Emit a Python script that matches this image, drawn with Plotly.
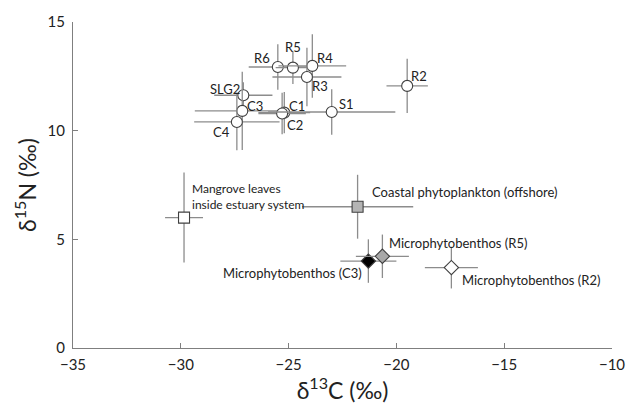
import plotly.graph_objects as go

# ---- data ----
site_labels = ["R6", "R5", "R4", "R3", "R2", "SLG2", "C3", "C1", "C2", "C4", "S1"]
site_d13c = [-25.5, -24.8, -23.9, -24.15, -19.5, -27.1, -27.15, -25.2, -25.3, -27.4, -23.0]
site_d15n = [12.93, 12.9, 12.98, 12.47, 12.06, 11.63, 10.91, 10.83, 10.79, 10.4, 10.86]
site_d13c_sd = [1.35, 0.8, 1.57, 1.6, 0.96, 1.35, 2.2, 1.2, 1.1, 1.98, 2.95]
site_d15n_sd = [1.05, 0.75, 1.46, 1.35, 1.25, 0.6, 1.8, 0.95, 0.95, 1.3, 1.05]

src_labels = ["Mangrove leaves<br>inside estuary system", "Coastal phytoplankton (offshore)",
              "Microphytobenthos (C3)", "Microphytobenthos (R5)", "Microphytobenthos (R2)"]
src_d13c = [-29.85, -21.8, -21.3, -20.65, -17.45]
src_d15n = [6.0, 6.5, 4.0, 4.22, 3.7]
src_d13c_sd = [0.88, 2.58, 1.3, 1.23, 1.23]
src_d15n_sd = [2.07, 1.47, 1.0, 1.0, 0.96]

x_ticks = [-35, -30, -25, -20, -15, -10]
y_ticks = [0, 5, 10, 15]

# ---- styles ----
FONT = "Lato"
ERR = dict(color="#8c8c8c", thickness=1.3, width=0)
EDGE = "#404040"
src_symbols = ["square", "square", "diamond", "diamond", "diamond"]
src_fills = ["white", "#b4b4b4", "black", "#a8a8a8", "white"]
src_sizes = [11, 11, 11, 11, 11]
src_font_sizes = [12, 13, 13, 13, 13]

# label offsets (pixels): (xshift, yshift, xanchor)
site_off = {
    "R6": (-16, 9, "center"), "R5": (0, 21, "center"), "R4": (13, 8, "center"),
    "R3": (13, -9, "center"), "R2": (12, 10, "center"), "SLG2": (-18, 6, "center"),
    "C3": (13, 5, "center"), "C1": (13, 7, "center"), "C2": (13, -11, "center"),
    "C4": (-15, -10, "center"), "S1": (15, 8, "center"),
}
src_off = [(6, 21, "left"), (12, 15, "left"), (-4, -12, "right"), (5, 13, "left"), (9, -12, "left")]

fig = go.Figure()

# sources first (drawn below), then sites
for i in range(len(src_labels)):
    fig.add_trace(go.Scatter(
        x=[src_d13c[i]], y=[src_d15n[i]], mode="markers",
        error_x=dict(type="data", array=[src_d13c_sd[i]], **ERR),
        error_y=dict(type="data", array=[src_d15n_sd[i]], **ERR),
        marker=dict(symbol=src_symbols[i], size=src_sizes[i], color=src_fills[i],
                    line=dict(color=EDGE, width=1.1)),
        showlegend=False, hoverinfo="skip"))

for i in range(len(site_labels)):
    fig.add_trace(go.Scatter(
        x=[site_d13c[i]], y=[site_d15n[i]], mode="markers",
        error_x=dict(type="data", array=[site_d13c_sd[i]], **ERR),
        error_y=dict(type="data", array=[site_d15n_sd[i]], **ERR),
        marker=dict(symbol="circle", size=11, color="white",
                    line=dict(color=EDGE, width=1.1)),
        showlegend=False, hoverinfo="skip"))

annotations = []
for lab, x, y in zip(site_labels, site_d13c, site_d15n):
    dx, dy, xa = site_off[lab]
    annotations.append(dict(x=x, y=y, xref="x", yref="y", text=lab, showarrow=False,
                            xshift=dx, yshift=dy, xanchor=xa, yanchor="middle",
                            font=dict(family=FONT, size=13, color="#222")))
for lab, x, y, (dx, dy, xa), fs in zip(src_labels, src_d13c, src_d15n, src_off, src_font_sizes):
    annotations.append(dict(x=x, y=y, xref="x", yref="y", text=lab, showarrow=False,
                            xshift=dx, yshift=dy, xanchor=xa, yanchor="middle", align="left",
                            font=dict(family=FONT, size=fs, color="#222")))

axis_common = dict(showgrid=False, zeroline=False, showline=True, linecolor="#7f7f7f",
                   linewidth=1.3, ticks="inside", ticklen=5, tickcolor="#7f7f7f",
                   tickwidth=1.2, ticklabeloverflow="allow", automargin=False,
                   tickfont=dict(family=FONT, size=15, color="#222"))

fig.update_layout(
    width=627, height=412,
    margin=dict(l=73, r=15, t=22, b=64),
    paper_bgcolor="white", plot_bgcolor="white",
    font=dict(family=FONT),
    annotations=annotations,
    xaxis=dict(range=[-35, -10], tickvals=x_ticks, ticklabelstandoff=3, title=dict(
        text="δ<sup>13</sup>C (‰)", font=dict(family=FONT, size=23, color="#222"), standoff=2),
        **axis_common),
    yaxis=dict(range=[0, 15], tickvals=y_ticks, ticklabelstandoff=4, title=dict(
        text="δ<sup>15</sup>N (‰)", font=dict(family=FONT, size=23, color="#222"), standoff=4),
        **axis_common),
)

fig.write_html("out.html")
